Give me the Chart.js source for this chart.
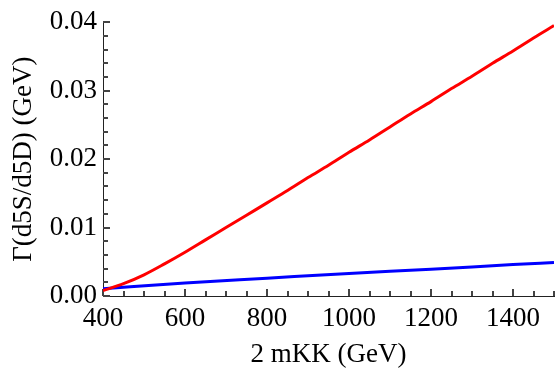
<!DOCTYPE html>
<html>
<head>
<meta charset="utf-8">
<script src="https://cdn.jsdelivr.net/npm/chart.js@4/dist/chart.umd.min.js"></script>
<style>
  body { margin: 0; background: #fff; }
  #wrap { width: 558px; height: 374px; }
</style>
</head>
<body>
<div id="wrap"><canvas id="myChart"></canvas></div>
<script>
// 2 mKK (GeV) where the curves were read
var redMass = [400, 450, 500, 550, 600, 650, 700, 750, 800, 850, 900, 950, 1000,
               1050, 1100, 1150, 1200, 1250, 1300, 1350, 1400, 1450, 1500];
var redWidth = [0.0008, 0.0018, 0.0031, 0.0047, 0.0064, 0.0082, 0.0100, 0.0118, 0.0136,
                0.0154, 0.0173, 0.0191, 0.0210, 0.0228, 0.0247, 0.0266, 0.0284, 0.0303,
                0.0321, 0.0340, 0.0358, 0.0377, 0.0395];

var blueMass = [400, 600, 800, 1000, 1200, 1400, 1500];
var blueWidth = [0.00105, 0.0019, 0.0026, 0.0033, 0.0039, 0.0046, 0.0049];

var xTickLabels = [400, 600, 800, 1000, 1200, 1400];
var yTickLabels = [0.00, 0.01, 0.02, 0.03, 0.04];

// minor tick spacing
var xMinorStep = 50;
var yMinorStep = 0.002;

function toPoints(xs, ys) {
    return xs.map(function(x, i){ return {x: x, y: ys[i]}; });
}

var font = "'Liberation Serif', 'Times New Roman', serif";

// inward major/minor tick marks, like the original
var tickMarks = {
    id: 'tickMarks',
    beforeDatasetsDraw: function(chart) {
        var c = chart.ctx;
        var xs = chart.scales.x, ys = chart.scales.y;
        var a = chart.chartArea;
        c.save();
        c.fillStyle = '#444';
        var n = Math.round((xs.max - xs.min) / xMinorStep);
        for (var i = 0; i <= n; i++) {
            var v = xs.min + i * xMinorStep;
            var px = Math.round(xs.getPixelForValue(v));
            var len = (v % 200 === 0) ? 7 : 5;
            c.fillRect(px - 1, a.bottom - len, 2, len);
        }
        var m = Math.round((ys.max - ys.min) / yMinorStep);
        for (var k = 0; k <= m; k++) {
            var py = Math.round(ys.getPixelForValue(k * yMinorStep));
            var l2 = (k % 5 === 0) ? 7 : 5;
            c.fillRect(a.left, py - 1, l2, 2);
        }
        c.restore();
    }
};

var ctx = document.getElementById('myChart').getContext('2d');
var chart = new Chart(ctx, {
    type: 'line',
    data: {
        datasets: [{
            label: 'red',
            data: toPoints(redMass, redWidth),
            borderColor: 'rgb(255, 0, 0)',
            borderWidth: 3,
            pointRadius: 0,
            cubicInterpolationMode: 'monotone'
        }, {
            label: 'blue',
            data: toPoints(blueMass, blueWidth),
            borderColor: 'rgb(0, 0, 255)',
            borderWidth: 3,
            pointRadius: 0,
            cubicInterpolationMode: 'monotone'
        }]
    },
    options: {
        responsive: true,
        maintainAspectRatio: false,
        animation: false,
        layout: { padding: { top: 16, right: 4, left: 0, bottom: 0 } },
        plugins: {
            legend: { display: false },
            tooltip: { enabled: false }
        },
        scales: {
            x: {
                type: 'linear',
                min: 400,
                max: 1500,
                afterBuildTicks: function(s) {
                    s.ticks = xTickLabels.map(function(v){ return {value: v}; });
                },
                afterFit: function(s) { s.height = 78; },
                grid: { display: false, drawTicks: false },
                border: { display: true, color: '#222', width: 1 },
                ticks: {
                    color: '#000',
                    padding: 7,
                    maxRotation: 0,
                    font: { family: font, size: 27 },
                    callback: function(v) { return v; }
                },
                title: {
                    display: true,
                    text: '2 mKK (GeV)',
                    color: '#000',
                    padding: { top: 0, bottom: 3 },
                    font: { family: font, size: 27 }
                }
            },
            y: {
                min: 0,
                max: 0.04,
                afterBuildTicks: function(s) {
                    s.ticks = yTickLabels.map(function(v){ return {value: v}; });
                },
                afterFit: function(s) { s.width = 103; },
                grid: { display: false, drawTicks: false },
                border: { display: true, color: '#222', width: 1 },
                ticks: {
                    color: '#000',
                    padding: 6,
                    font: { family: font, size: 27 },
                    callback: function(v) { return v.toFixed(2); }
                },
                title: {
                    display: true,
                    text: 'Γ(d5S/d5D) (GeV)',
                    color: '#000',
                    padding: { top: 8, bottom: 0 },
                    font: { family: font, size: 27 }
                }
            }
        }
    },
    plugins: [tickMarks]
});
</script>
</body>
</html>
